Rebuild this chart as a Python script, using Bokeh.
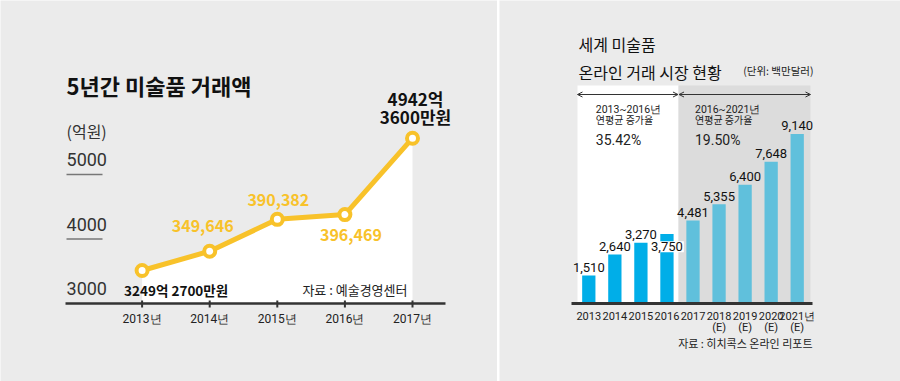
from bokeh.plotting import figure
from bokeh.models import Range1d, Arrow, OpenHead
from bokeh.layouts import row
from bokeh.core.properties import value
from bokeh.embed import file_html
from bokeh.resources import INLINE

# ---------------- data: left panel (억원) ----------------
years = [2013, 2014, 2015, 2016, 2017]
sales = [3249.27, 3496.46, 3903.82, 3964.69, 4942.36]
year_labels = ["2013년", "2014년", "2015년", "2016년", "2017년"]
point_labels = ["3249억 2700만원", "349,646", "390,382", "396,469", "4942억\n3600만원"]
scale_ticks = [3000, 4000, 5000]
scale_labels = ["3000", "4000", "5000"]
left_title = "5년간 미술품 거래액"
left_unit = "(억원)"
left_source = "자료 : 예술경영센터"

# ---------------- data: right panel (백만달러) ----------------
mk_years = ["2013", "2014", "2015", "2016", "2017", "2018", "2019", "2020", "2021"]
mk_tick_labels = ["2013", "2014", "2015", "2016", "2017",
                  "2018\n(E)", "2019\n(E)", "2020\n(E)", "2021년\n(E)"]
mk_values = [1510, 2640, 3270, 3750, 4481, 5355, 6400, 7648, 9140]
mk_value_labels = ["1,510", "2,640", "3,270", "3,750", "4,481", "5,355", "6,400", "7,648", "9,140"]
mk_forecast_from = "2017"
cagr_periods = ["2013~2016년", "2016~2021년"]
cagr_caption = ["연평균 증가율", "연평균 증가율"]
cagr_values = ["35.42%", "19.50%"]
right_title = ["세계 미술품", "온라인 거래 시장 현황"]
right_unit = "(단위: 백만달러)"
right_source = "자료 : 히치콕스 온라인 리포트"

# ---------------- styles ----------------
BG = "#ebebeb"
YEL = "#f8c22a"
KR = value("Noto Sans CJK KR")
NUM = value("Roboto")
DARK = "#222222"
MID = dict(text_baseline="middle")
H = 381
BELOW = 78          # px from the axis line to the bottom edge
ABOVE = 303         # px from the top edge to the axis line

# ================= LEFT PANEL =================
PPY = 0.07814                           # px per 억원
L_W = 497
L_X0, L_X1 = 2010.9053, 2018.2574      # whole panel width
L_AX0, L_AX1 = 2011.867, 2017.488      # extent of the axis line
L_BASE = 2827.0                        # value at the axis line
L_Y0, L_Y1 = L_BASE - BELOW / PPY, L_BASE + ABOVE / PPY
PPX = L_W / (L_X1 - L_X0)
S_PPY = 0.0645                          # px per unit of the decorative scale

left = figure(width=L_W, height=H, x_range=Range1d(L_X0, L_X1), y_range=Range1d(L_Y0, L_Y1),
              output_backend="svg", toolbar_location=None, x_axis_location=None,
              y_axis_location=None, min_border=0, title=None,
              background_fill_color=BG, border_fill_color=BG, outline_line_color=None)
left.grid.visible = False
left.extra_y_ranges = {"scale": Range1d(3000 - BELOW / S_PPY, 3000 + ABOVE / S_PPY)}

# area under the line
left.varea(x=years, y1=L_BASE, y2=sales, fill_color="white")

# axis line, ticks, tick labels
left.segment(x0=[L_AX0], x1=[L_AX1], y0=[L_BASE], y1=[L_BASE], line_color="#333333", line_width=2.5)
left.segment(x0=years, x1=years, y0=L_BASE + 3 / PPY, y1=L_BASE - 4 / PPY,
             line_color="#333333", line_width=2)
left.text(x=years, y=[L_BASE] * len(years), text=year_labels, y_offset=15, text_align="center",
          text_font=NUM, text_font_size="12px", text_color=DARK, **MID)

# scale labels (decorative)
left.text(x=[L_AX0] * len(scale_ticks), y=scale_ticks, text=scale_labels, y_range_name="scale",
          x_offset=1, y_offset=-15, text_align="left",
          text_font=NUM, text_font_size="18px", text_color="#333333", **MID)
left.segment(x0=L_AX0 + 1 / PPX, x1=L_AX0 + 37 / PPX, y0=scale_ticks[1:], y1=scale_ticks[1:],
             y_range_name="scale", line_color="#777777", line_width=1.5)
left.text(x=[L_AX0], y=[scale_ticks[-1]], text=[left_unit], y_range_name="scale",
          x_offset=1, y_offset=-43.5, text_align="left",
          text_font=KR, text_font_size="16px", text_color="#333333", **MID)

# title
left.text(x=[L_AX0], y=[L_Y1], text=[left_title], x_offset=1, y_offset=84.5, text_align="left",
          text_font=KR, text_font_size="22px", text_font_style="bold", text_color="#111111", **MID)

# line + points
left.line(years, sales, line_color=YEL, line_width=5)
left.scatter(years, sales, size=11, fill_color="white", line_color=YEL, line_width=4)

# point labels
left.text(x=[years[0]], y=[sales[0]], text=[point_labels[0]], x_offset=-18, y_offset=19.5,
          text_align="left", text_font=KR, text_font_size="13.5px", text_font_style="bold",
          text_color="#111111", **MID)
left.text(x=[years[1]], y=[sales[1]], text=[point_labels[1]], x_offset=-7, y_offset=-25,
          text_align="center", text_font=KR, text_font_size="16px", text_font_style="bold",
          text_color=YEL, **MID)
left.text(x=[years[2]], y=[sales[2]], text=[point_labels[2]], x_offset=1, y_offset=-19.5,
          text_align="center", text_font=KR, text_font_size="16px", text_font_style="bold",
          text_color=YEL, **MID)
left.text(x=[years[3]], y=[sales[3]], text=[point_labels[3]], x_offset=6, y_offset=20,
          text_align="center", text_font=KR, text_font_size="16px", text_font_style="bold",
          text_color=YEL, **MID)
last_lines = point_labels[4].split("\n")
left.text(x=[years[4]] * 2, y=[sales[4]] * 2, text=last_lines, x_offset=3, y_offset=[-40, -22],
          text_align="center", text_font=KR, text_font_size="17px", text_font_style="bold",
          text_color="#111111", **MID)

# source
left.text(x=[years[-1]], y=[L_BASE], text=[left_source], x_offset=-5, y_offset=-14,
          text_align="right", text_font=KR, text_font_size="13px", text_color=DARK, **MID)

# ================= RIGHT PANEL =================
PPV = 0.01855                           # px per 백만달러
idx = list(range(len(mk_years)))
R_W = 401
R_X0, R_X1 = -3.428, 11.965            # whole panel width
R_AX0, R_AX1 = -0.664, 8.587           # extent of the axis line
R_Y0, R_Y1 = -BELOW / PPV, ABOVE / PPV
BAND_TOP = 218 / PPV
ARROW_Y = 209 / PPV
BAND_L, SPLIT, BAND_R = -0.434, 3.443, 8.51

right = figure(width=R_W, height=H, x_range=Range1d(R_X0, R_X1), y_range=Range1d(R_Y0, R_Y1),
               output_backend="svg", toolbar_location=None, x_axis_location=None,
               y_axis_location=None, min_border=0, title=None,
               background_fill_color=BG, border_fill_color=BG, outline_line_color=None)
right.grid.visible = False

right.quad(left=[BAND_L], right=[SPLIT], bottom=[0], top=[BAND_TOP], fill_color="white", line_color=None)
right.quad(left=[SPLIT], right=[BAND_R], bottom=[0], top=[BAND_TOP], fill_color="#dcdcdc", line_color=None)

for x0, x1 in [(BAND_L, SPLIT - 0.02), (SPLIT + 0.02, BAND_R)]:
    right.add_layout(Arrow(x_start=x0, x_end=x1, y_start=ARROW_Y, y_end=ARROW_Y,
                           start=OpenHead(size=5, line_width=1, line_color="#333333"),
                           end=OpenHead(size=5, line_width=1, line_color="#333333"),
                           line_width=1, line_color="#333333"))

colors = ["#00aee8" if y < mk_forecast_from else "#60c0dc" for y in mk_years]
right.vbar(x=idx, bottom=0, top=mk_values, width=0.51, fill_color=colors, line_color=None)

# axis line
right.segment(x0=[R_AX0], x1=[R_AX1], y0=[0], y1=[0], line_color="#333333", line_width=3)

# tick labels (two lines for estimates)
first = [l.split("\n")[0] for l in mk_tick_labels]
second = [l.split("\n")[1] if "\n" in l else "" for l in mk_tick_labels]
right.text(x=idx, y=[0] * len(idx), text=first, y_offset=12.5, text_align="center",
           text_font=NUM, text_font_size="11px", text_color=DARK, **MID)
right.text(x=idx, y=[0] * len(idx), text=second, y_offset=24, text_align="center",
           text_font=NUM, text_font_size="11px", text_color=DARK, **MID)

# value labels
others = [i for i in idx if i != 3]
right.text(x=[idx[i] for i in others], y=[mk_values[i] for i in others],
           text=[mk_value_labels[i] for i in others], y_offset=-8, text_align="center",
           text_font=NUM, text_font_size="13px", text_color="#111111", **MID)
right.text(x=[idx[3]], y=[mk_values[3]], text=[mk_value_labels[3]], y_offset=12.8,
           text_align="center", text_font=NUM, text_font_size="13px", text_color="#111111",
           background_fill_color="white", padding=1, **MID)

# CAGR annotations
right.text(x=[idx[0], idx[4]], y=[BAND_TOP] * 2, text=cagr_periods, x_offset=[7, 2], y_offset=24,
           text_align="left", text_font=NUM, text_font_size="10.5px", text_color=DARK, **MID)
right.text(x=[idx[0], idx[4]], y=[BAND_TOP] * 2, text=cagr_caption, x_offset=[7, 2], y_offset=33.5,
           text_align="left", text_font=KR, text_font_size="10px", text_color=DARK, **MID)
right.text(x=[idx[0], idx[4]], y=[BAND_TOP] * 2, text=cagr_values, x_offset=[7, 2], y_offset=54,
           text_align="left", text_font=NUM, text_font_size="14px", text_color=DARK, **MID)

# titles
right.text(x=[R_AX0] * 2, y=[R_Y1] * 2, text=right_title, x_offset=7, y_offset=[43.5, 71],
           text_align="left", text_font=KR, text_font_size="16px", text_color="#111111", **MID)
right.text(x=[R_AX1], y=[R_Y1], text=[right_unit], x_offset=1, y_offset=70,
           text_align="right", text_font=KR, text_font_size="10.5px", text_color=DARK, **MID)

# source
right.text(x=[R_AX1], y=[0], text=[right_source], y_offset=39.5,
           text_align="right", text_font=KR, text_font_size="11px", text_color=DARK, **MID)

layout = row(left, right, spacing=2)
open("out.html", "w").write(file_html(layout, INLINE))
